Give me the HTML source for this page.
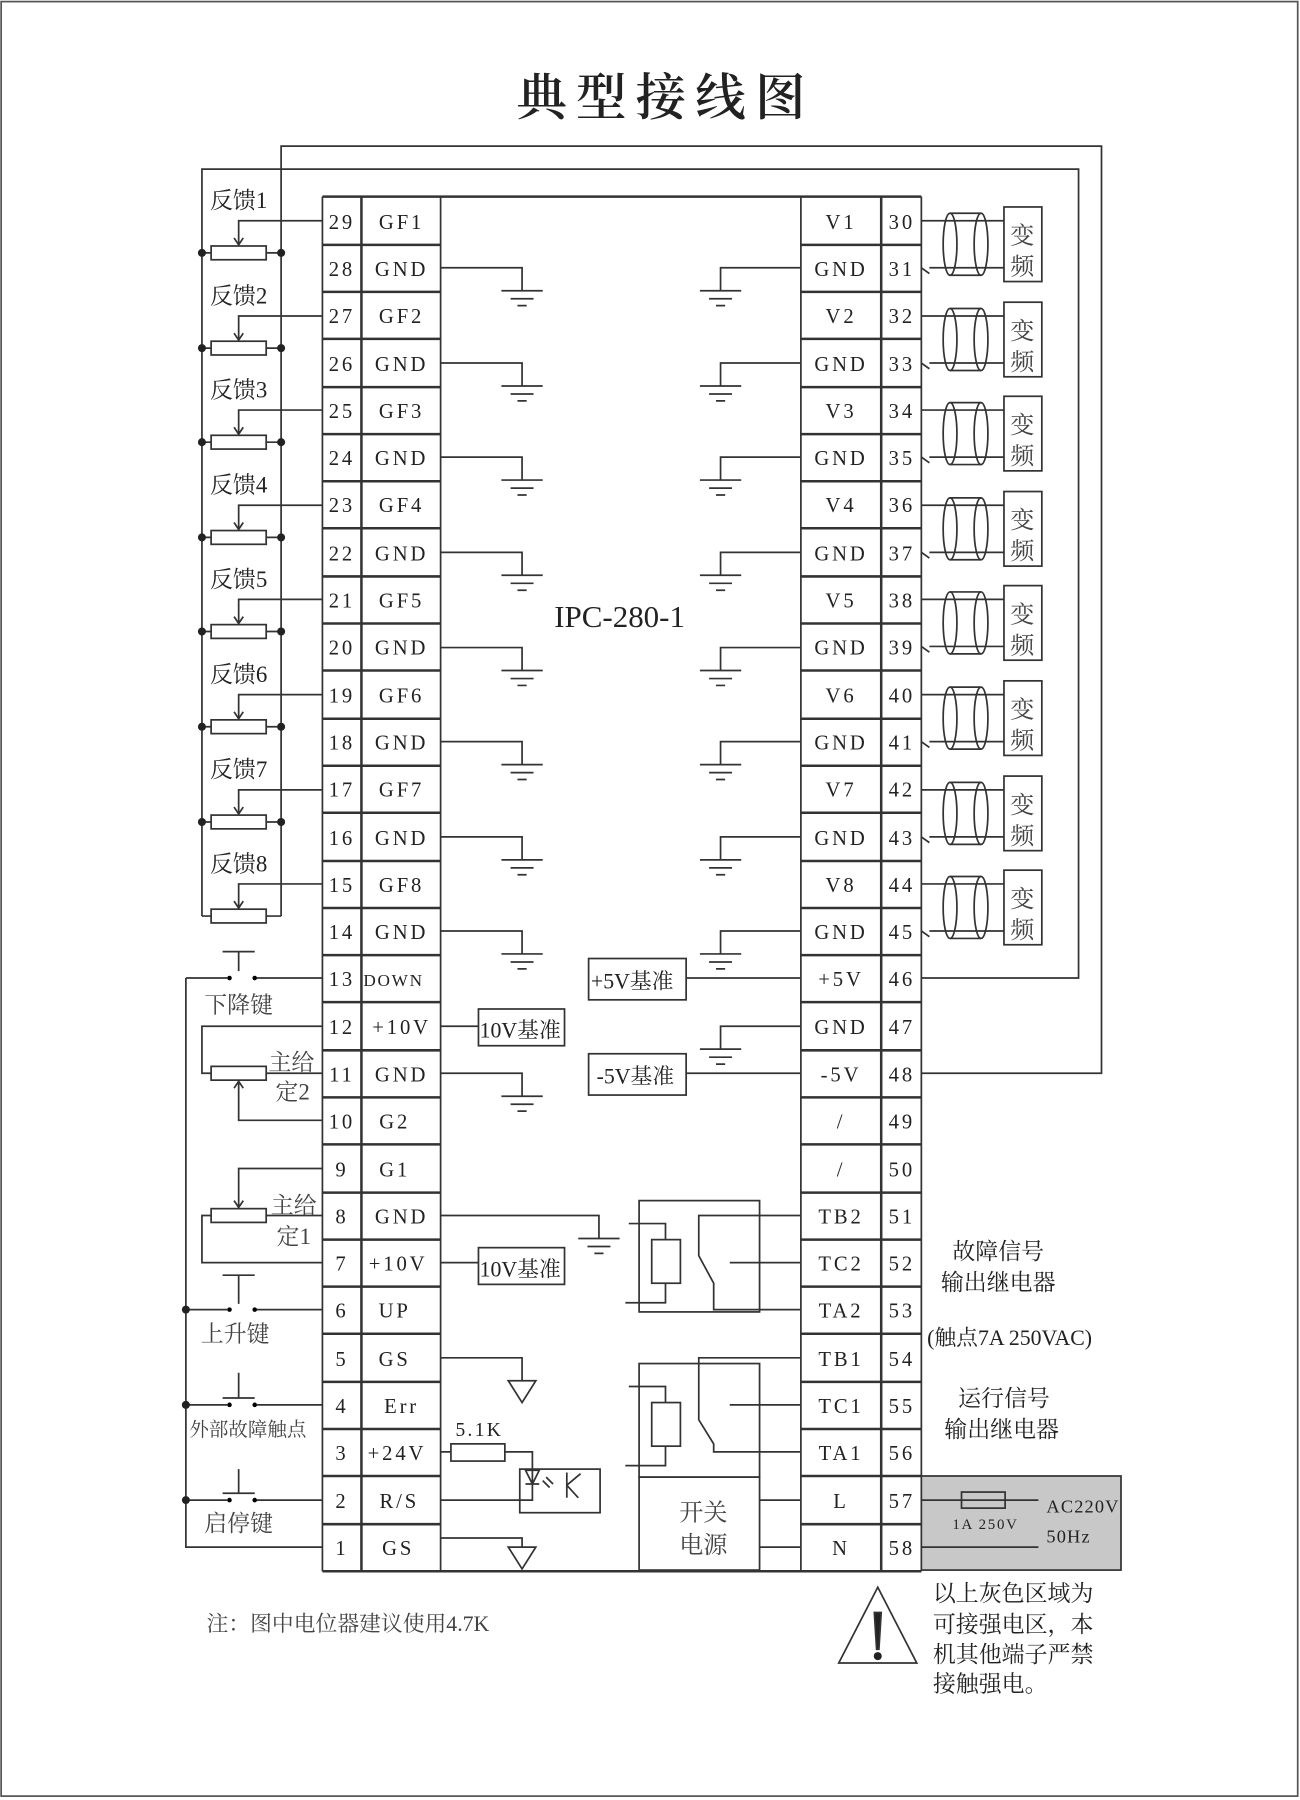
<!DOCTYPE html>
<html><head><meta charset="utf-8"><style>
html,body{margin:0;padding:0;background:#fff}
svg{display:block}
text{font-family:"Liberation Serif","Noto Serif CJK SC",serif;fill:#222}
.t{font-size:18px;letter-spacing:2.5px;text-anchor:middle}
.c{font-size:20px;fill:#444}
line,rect,path,polyline,ellipse,polygon{stroke:#333;stroke-width:1.5;fill:none}
.h{stroke-width:2.2}
</style></head><body>
<svg width="1300" height="1800" viewBox="0 0 1133 1568" xmlns="http://www.w3.org/2000/svg">
<rect x="1" y="1" width="1130" height="1564" style="stroke:#555;stroke-width:1.5"/>
<text x="580" y="100" style="font-size:44px;text-anchor:middle;letter-spacing:8px;font-weight:600">典型接线图</text>
<text x="540" y="546" style="font-size:27px;text-anchor:middle">IPC-280-1</text>

<line x1="281" y1="171" x2="803" y2="171" class="h"/>
<line x1="281" y1="1369" x2="803" y2="1369" class="h"/>
<line x1="281" y1="171" x2="281" y2="1369"/>
<line x1="315" y1="171" x2="315" y2="1369" class="h"/>
<line x1="384" y1="171" x2="384" y2="1369"/>
<line x1="698" y1="171" x2="698" y2="1369"/>
<line x1="768" y1="171" x2="768" y2="1369" class="h"/>
<line x1="803" y1="171" x2="803" y2="1369"/>
<path class="h" d="M281 213H384M281 254H384M281 295H384M281 337H384M281 378H384M281 419H384M281 460H384M281 502H384M281 543H384M281 584H384M281 626H384M281 667H384M281 708H384M281 750H384M281 791H384M281 832H384M281 873H384M281 915H384M281 956H384M281 997H384M281 1039H384M281 1080H384M281 1121H384M281 1162H384M281 1204H384M281 1245H384M281 1286H384M281 1328H384"/>
<path class="h" d="M698 213H803M698 254H803M698 295H803M698 337H803M698 378H803M698 419H803M698 460H803M698 502H803M698 543H803M698 584H803M698 626H803M698 667H803M698 708H803M698 750H803M698 791H803M698 832H803M698 873H803M698 915H803M698 956H803M698 997H803M698 1039H803M698 1080H803M698 1121H803M698 1162H803M698 1204H803M698 1245H803M698 1286H803M698 1328H803"/>
<g class="t">
<text x="298" y="199">29</text><text x="350" y="199">GF1</text>
<text x="298" y="240">28</text><text x="350" y="240">GND</text>
<text x="298" y="281">27</text><text x="350" y="281">GF2</text>
<text x="298" y="323">26</text><text x="350" y="323">GND</text>
<text x="298" y="364">25</text><text x="350" y="364">GF3</text>
<text x="298" y="405">24</text><text x="350" y="405">GND</text>
<text x="298" y="446">23</text><text x="350" y="446">GF4</text>
<text x="298" y="488">22</text><text x="350" y="488">GND</text>
<text x="298" y="529">21</text><text x="350" y="529">GF5</text>
<text x="298" y="570">20</text><text x="350" y="570">GND</text>
<text x="298" y="612">19</text><text x="350" y="612">GF6</text>
<text x="298" y="653">18</text><text x="350" y="653">GND</text>
<text x="298" y="694">17</text><text x="350" y="694">GF7</text>
<text x="298" y="736">16</text><text x="350" y="736">GND</text>
<text x="298" y="777">15</text><text x="350" y="777">GF8</text>
<text x="298" y="818">14</text><text x="350" y="818">GND</text>
<text x="298" y="859">13</text><text x="343" y="859" style="font-size:15px;letter-spacing:1.5px">DOWN</text>
<text x="298" y="901">12</text><text x="350" y="901">+10V</text>
<text x="298" y="942">11</text><text x="350" y="942">GND</text>
<text x="298" y="983">10</text><text x="344" y="983">G2</text>
<text x="298" y="1025">9</text><text x="344" y="1025">G1</text>
<text x="298" y="1066">8</text><text x="350" y="1066">GND</text>
<text x="298" y="1107">7</text><text x="347" y="1107">+10V</text>
<text x="298" y="1148">6</text><text x="344" y="1148">UP</text>
<text x="298" y="1190">5</text><text x="344" y="1190">GS</text>
<text x="298" y="1231">4</text><text x="350" y="1231">Err</text>
<text x="298" y="1272">3</text><text x="346" y="1272">+24V</text>
<text x="298" y="1314">2</text><text x="348" y="1314">R/S</text>
<text x="298" y="1355">1</text><text x="347" y="1355">GS</text>
<text x="733" y="199">V1</text><text x="786" y="199">30</text>
<text x="733" y="240">GND</text><text x="786" y="240">31</text>
<text x="733" y="281">V2</text><text x="786" y="281">32</text>
<text x="733" y="323">GND</text><text x="786" y="323">33</text>
<text x="733" y="364">V3</text><text x="786" y="364">34</text>
<text x="733" y="405">GND</text><text x="786" y="405">35</text>
<text x="733" y="446">V4</text><text x="786" y="446">36</text>
<text x="733" y="488">GND</text><text x="786" y="488">37</text>
<text x="733" y="529">V5</text><text x="786" y="529">38</text>
<text x="733" y="570">GND</text><text x="786" y="570">39</text>
<text x="733" y="612">V6</text><text x="786" y="612">40</text>
<text x="733" y="653">GND</text><text x="786" y="653">41</text>
<text x="733" y="694">V7</text><text x="786" y="694">42</text>
<text x="733" y="736">GND</text><text x="786" y="736">43</text>
<text x="733" y="777">V8</text><text x="786" y="777">44</text>
<text x="733" y="818">GND</text><text x="786" y="818">45</text>
<text x="733" y="859">+5V</text><text x="786" y="859">46</text>
<text x="733" y="901">GND</text><text x="786" y="901">47</text>
<text x="733" y="942">-5V</text><text x="786" y="942">48</text>
<text x="733" y="983">/</text><text x="786" y="983">49</text>
<text x="733" y="1025">/</text><text x="786" y="1025">50</text>
<text x="733" y="1066">TB2</text><text x="786" y="1066">51</text>
<text x="733" y="1107">TC2</text><text x="786" y="1107">52</text>
<text x="733" y="1148">TA2</text><text x="786" y="1148">53</text>
<text x="733" y="1190">TB1</text><text x="786" y="1190">54</text>
<text x="733" y="1231">TC1</text><text x="786" y="1231">55</text>
<text x="733" y="1272">TA1</text><text x="786" y="1272">56</text>
<text x="733" y="1314">L</text><text x="786" y="1314">57</text>
<text x="733" y="1355">N</text><text x="786" y="1355">58</text>
</g>

<defs>
<g id="gl"><path d="M0 0H71V20M53 20H89M61 27H81M67 33H75"/></g>
<g id="gr"><path d="M0 0H-70V20M-88 20H-52M-80 27H-60M-74 33H-66"/></g>
<g id="pot"><rect x="184" y="-6" width="48" height="12"/><path d="M176 0H184M232 0H245"/></g>
<g id="cab">
<path d="M803 0H875M810 41H875M803 41L810 46"/>
<ellipse cx="828" cy="20.5" rx="6" ry="27"/><ellipse cx="855" cy="20.5" rx="6" ry="27"/>
<path d="M828 -6.5H855M828 47.5H855"/>
<rect x="875" y="-12" width="33" height="65"/>
<text x="891" y="20" style="font-size:21px;text-anchor:middle;fill:#444">变</text>
<text x="891" y="47" style="font-size:21px;text-anchor:middle;fill:#444">频</text>
</g>
</defs>
<use href="#gl" x="384" y="233"/><use href="#gl" x="384" y="316"/><use href="#gl" x="384" y="398"/><use href="#gl" x="384" y="481"/><use href="#gl" x="384" y="564"/><use href="#gl" x="384" y="646"/><use href="#gl" x="384" y="729"/><use href="#gl" x="384" y="811"/><use href="#gl" x="384" y="935"/>
<use href="#gr" x="698" y="233"/><use href="#gr" x="698" y="316"/><use href="#gr" x="698" y="398"/><use href="#gr" x="698" y="481"/><use href="#gr" x="698" y="564"/><use href="#gr" x="698" y="646"/><use href="#gr" x="698" y="729"/><use href="#gr" x="698" y="811"/><use href="#gr" x="698" y="894"/>

<path d="M176 798V147H940V852H803"/>
<path d="M245 798V127H960V935H803"/>

<use href="#pot" y="220"/><use href="#pot" y="303"/><use href="#pot" y="385"/><use href="#pot" y="468"/><use href="#pot" y="550"/><use href="#pot" y="633"/><use href="#pot" y="716"/><use href="#pot" y="798"/>
<path d="M281 192H208V213M281 275H208V296M281 357H208V378M281 440H208V461M281 522H208V543M281 605H208V626M281 688H208V709M281 770H208V791"/>
<path d="M204 207L208 213L212 207M204 290L208 296L212 290M204 372L208 378L212 372M204 455L208 461L212 455M204 537L208 543L212 537M204 620L208 626L212 620M204 703L208 709L212 703M204 785L208 791L212 785"/>
<g>
<circle cx="176" cy="220" r="3.5" style="fill:#222"/><circle cx="245" cy="220" r="3.5" style="fill:#222"/>
<circle cx="176" cy="303" r="3.5" style="fill:#222"/><circle cx="245" cy="303" r="3.5" style="fill:#222"/>
<circle cx="176" cy="385" r="3.5" style="fill:#222"/><circle cx="245" cy="385" r="3.5" style="fill:#222"/>
<circle cx="176" cy="468" r="3.5" style="fill:#222"/><circle cx="245" cy="468" r="3.5" style="fill:#222"/>
<circle cx="176" cy="550" r="3.5" style="fill:#222"/><circle cx="245" cy="550" r="3.5" style="fill:#222"/>
<circle cx="176" cy="633" r="3.5" style="fill:#222"/><circle cx="245" cy="633" r="3.5" style="fill:#222"/>
<circle cx="176" cy="716" r="3.5" style="fill:#222"/><circle cx="245" cy="716" r="3.5" style="fill:#222"/>
</g>
<g class="c">
<text x="183" y="181">反馈1</text><text x="183" y="264">反馈2</text><text x="183" y="346">反馈3</text><text x="183" y="429">反馈4</text>
<text x="183" y="511">反馈5</text><text x="183" y="594">反馈6</text><text x="183" y="677">反馈7</text><text x="183" y="759">反馈8</text>
</g>

<use href="#cab" y="192"/><use href="#cab" y="275"/><use href="#cab" y="357"/><use href="#cab" y="440"/><use href="#cab" y="522"/><use href="#cab" y="605"/><use href="#cab" y="688"/><use href="#cab" y="770"/>

<path d="M162 852V1348H281"/>
<path d="M162 852H198M224 852H281M194 829H222M208 829V846"/>
<circle cx="200" cy="852" r="2"/><circle cx="222" cy="852" r="2"/>
<text x="178" y="882" class="c">下降键</text>
<path d="M162 1141H198M224 1141H281M194 1111H222M208 1111V1136"/>
<circle cx="200" cy="1141" r="2"/><circle cx="222" cy="1141" r="2"/>
<text x="175" y="1169" class="c">上升键</text>
<path d="M162 1224H198M224 1224H281M194 1218H222M208 1196V1218"/>
<circle cx="200" cy="1224" r="2"/><circle cx="222" cy="1224" r="2"/>
<text x="165" y="1251" class="c" style="font-size:17px">外部故障触点</text>
<path d="M162 1307H198M224 1307H281M194 1301H222M208 1280V1301"/>
<circle cx="200" cy="1307" r="2"/><circle cx="222" cy="1307" r="2"/>
<text x="178" y="1334" class="c">启停键</text>
<circle cx="162" cy="1141" r="3.5" style="fill:#222"/><circle cx="162" cy="1224" r="3.5" style="fill:#222"/><circle cx="162" cy="1307" r="3.5" style="fill:#222"/>

<rect x="184" y="929" width="48" height="12"/>
<path d="M281 894H176V935H184M232 935H281M281 976H208V942M204 948L208 942L212 948"/>
<text x="234" y="932" class="c">主给</text><text x="240" y="958" class="c">定2</text>
<rect x="184" y="1053" width="48" height="12"/>
<path d="M281 1018H208V1052M204 1046L208 1052L212 1046M232 1059H281M184 1059H176V1100H281"/>
<text x="236" y="1057" class="c">主给</text><text x="241" y="1084" class="c">定1</text>

<rect x="417" y="879" width="75" height="32"/><path d="M384 894H417"/>
<text x="418" y="904" style="font-size:19px">10V基准</text>
<rect x="417" y="1087" width="75" height="32"/><path d="M384 1100H417"/>
<text x="418" y="1112" style="font-size:19px">10V基准</text>
<rect x="513" y="835" width="85" height="36"/><path d="M598 852H698"/>
<text x="515" y="861" style="font-size:19px">+5V基准</text>
<rect x="513" y="918" width="85" height="36"/><path d="M598 935H698"/>
<text x="520" y="944" style="font-size:19px">-5V基准</text>

<path d="M384 1059H522V1079M504 1079H540M512 1086H532M518 1092H526"/>
<path d="M384 1183H455V1203"/><polygon points="443,1203 467,1203 455,1222"/>
<path d="M384 1340H455V1348"/><polygon points="443,1348 467,1348 455,1367"/>
<text x="397" y="1251" style="font-size:17px;letter-spacing:2px">5.1K</text>
<rect x="393" y="1258" width="47" height="15"/>
<path d="M384 1265H393M440 1265H464V1307H384"/>
<rect x="453" y="1280" width="70" height="38"/>
<path d="M458 1281H470L464 1293ZM458 1293H470M473 1290L479 1296M476 1287L482 1293M494 1283V1305M494 1294L506 1284M494 1294L504 1305"/>

<rect x="557" y="1046" width="105" height="97"/>
<rect x="568" y="1080" width="25" height="38"/>
<path d="M548 1066H580V1080M580 1118V1135H545M698 1059H609V1094L622 1118V1141H698M698 1100H636"/>
<rect x="557" y="1188" width="105" height="99"/>
<rect x="568" y="1222" width="25" height="38"/>
<path d="M548 1208H580V1222M580 1260V1277H545M698 1183H609V1237L622 1258V1265H698M698 1224H636"/>
<rect x="557" y="1287" width="105" height="81"/>
<text x="592" y="1325" style="font-size:21px;fill:#444">开关</text>
<text x="592" y="1353" style="font-size:21px;fill:#444">电源</text>
<path d="M662 1307H698M662 1348H698"/>

<g class="c">
<text x="830" y="1097">故障信号</text>
<text x="820" y="1124">输出继电器</text>
<text x="808" y="1172" style="font-size:19px">(触点7A 250VAC)</text>
<text x="835" y="1225">运行信号</text>
<text x="823" y="1252">输出继电器</text>
</g>

<rect x="803" y="1286" width="174" height="82" style="fill:#c8c8c8;stroke:#333"/>
<path d="M803 1307H905M803 1348H905"/>
<rect x="838" y="1300" width="38" height="14"/>
<text x="830" y="1332" style="font-size:13px;letter-spacing:1.5px">1A 250V</text>
<text x="912" y="1318" style="font-size:16px;letter-spacing:1px">AC220V</text>
<text x="912" y="1344" style="font-size:16px;letter-spacing:1px">50Hz</text>

<polygon points="765,1383 731,1449 799,1449"/>
<path d="M762 1405L768 1405L766 1437L764 1437Z" style="fill:#222"/>
<circle cx="765" cy="1443" r="3.5" style="fill:#222"/>
<g class="c">
<text x="813" y="1395">以上灰色区域为</text>
<text x="813" y="1422">可接强电区，本</text>
<text x="813" y="1448">机其他端子严禁</text>
<text x="813" y="1474">接触强电。</text>
</g>
<text x="180" y="1421" class="c" style="font-size:19px">注：图中电位器建议使用4.7K</text>
</svg>
</body></html>
